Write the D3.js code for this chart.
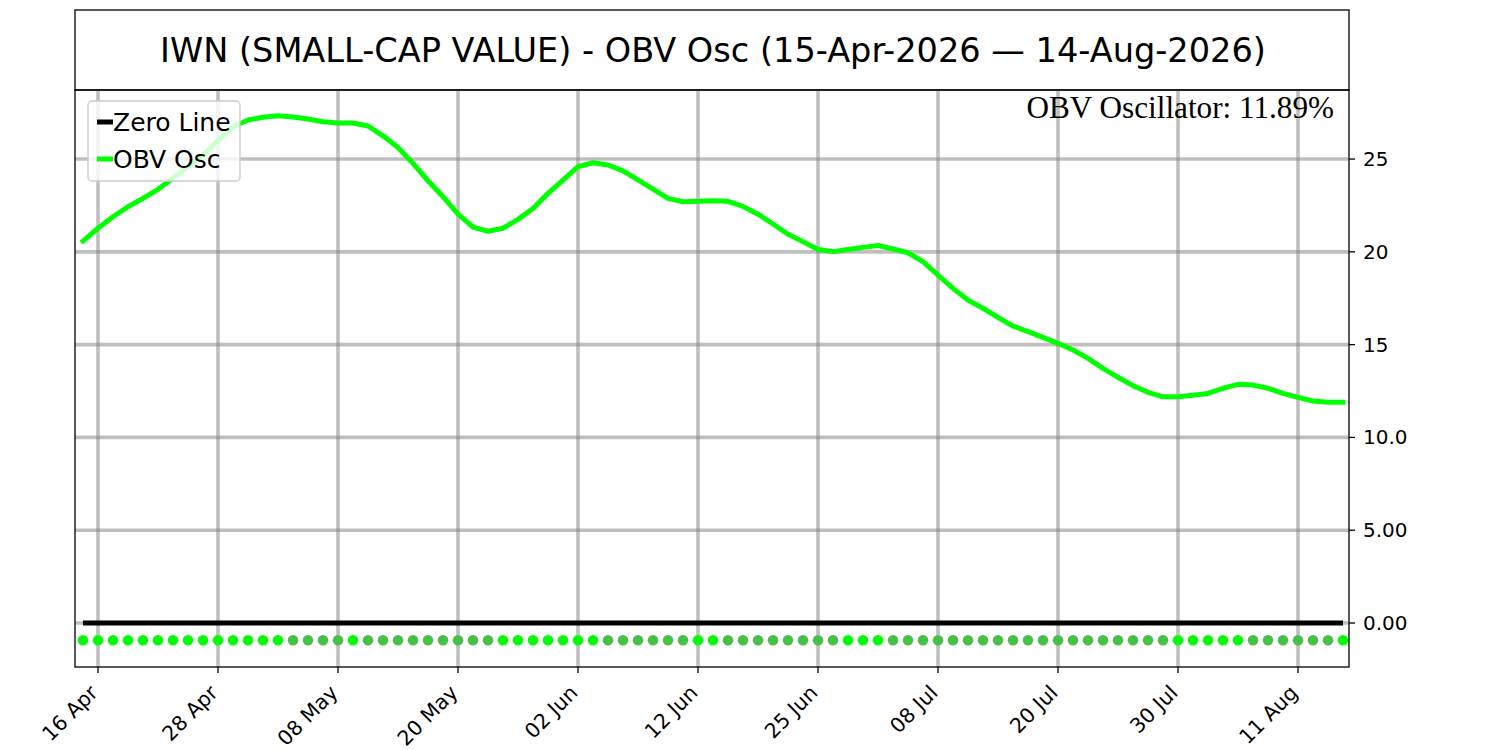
<!DOCTYPE html>
<html><head><meta charset="utf-8">
<script src="https://cdn.jsdelivr.net/npm/d3@7"></script>
<style>body{margin:0;background:#fff}svg{display:block}</style>
</head><body>
<svg id="c" width="1500" height="750"></svg>
<script>
const titleText = "IWN (SMALL-CAP VALUE) - OBV Osc (15-Apr-2026 \u2014 14-Aug-2026)";
const annotationText = "OBV Oscillator: 11.89%";
const dates = ["2026-04-15","2026-04-16","2026-04-17","2026-04-20","2026-04-21","2026-04-22","2026-04-23","2026-04-24","2026-04-27","2026-04-28",
"2026-04-29","2026-04-30","2026-05-01","2026-05-04","2026-05-05","2026-05-06","2026-05-07","2026-05-08","2026-05-11","2026-05-12",
"2026-05-13","2026-05-14","2026-05-15","2026-05-18","2026-05-19","2026-05-20","2026-05-21","2026-05-22","2026-05-26","2026-05-27",
"2026-05-28","2026-05-29","2026-06-01","2026-06-02","2026-06-03","2026-06-04","2026-06-05","2026-06-08","2026-06-09","2026-06-10",
"2026-06-11","2026-06-12","2026-06-15","2026-06-16","2026-06-17","2026-06-18","2026-06-22","2026-06-23","2026-06-24","2026-06-25",
"2026-06-26","2026-06-29","2026-06-30","2026-07-01","2026-07-02","2026-07-06","2026-07-07","2026-07-08","2026-07-09","2026-07-10",
"2026-07-13","2026-07-14","2026-07-15","2026-07-16","2026-07-17","2026-07-20","2026-07-21","2026-07-22","2026-07-23","2026-07-24",
"2026-07-27","2026-07-28","2026-07-29","2026-07-30","2026-07-31","2026-08-03","2026-08-04","2026-08-05","2026-08-06","2026-08-07",
"2026-08-10","2026-08-11","2026-08-12","2026-08-13","2026-08-14"];
const obvOsc = [20.58,21.27,21.89,22.43,22.88,23.37,23.96,24.59,25.2,26.0,
26.74,27.1,27.25,27.33,27.27,27.16,27.01,26.94,26.94,26.78,
26.25,25.62,24.77,23.83,22.97,22.03,21.33,21.11,21.27,21.75,
22.34,23.15,23.87,24.59,24.8,24.68,24.36,23.88,23.38,22.88,
22.70,22.72,22.75,22.72,22.45,22.03,21.5,20.95,20.55,20.13,
20.01,20.13,20.24,20.34,20.15,19.95,19.47,18.75,18.03,17.4,
16.96,16.47,16.0,15.7,15.39,15.07,14.71,14.26,13.72,13.24,
12.79,12.43,12.19,12.19,12.27,12.37,12.65,12.86,12.82,12.65,
12.37,12.16,11.96,11.89,11.89];
// 1 = bright marker, 0 = muted marker
const signalState = [1,1,1,1,1,1,1,1,1,1,1,1,1,1,0,0,0,0,1,0,
0,0,0,0,0,0,0,0,1,1,1,1,1,1,1,0,0,0,0,0,
0,1,1,0,0,0,0,0,0,0,0,1,1,1,0,0,0,0,0,0,
0,0,0,0,0,0,0,0,0,0,0,0,0,1,1,1,1,1,0,0,
0,0,0,0,1];
const markerLevel = -0.93;
const xTickIdx = [1,9,17,25,33,41,49,57,65,73,81];
const yTickVals = [0,5,10,15,20,25];
const yTickLabels = ["0.00","5.00","10.0","15","20","25"];
const legendLabels = ["Zero Line","OBV Osc"];

const svg = d3.select("#c");
const L = 75, R = 1349, T = 90, B = 667;
const x = d3.scaleLinear().domain([-0.533, 84.4]).range([L, R]);
const y = d3.scaleLinear().domain([-2.37, 28.72]).range([B, T]);
const parse = d3.timeParse("%Y-%m-%d"), fmt = d3.timeFormat("%d %b");

// title box
svg.append("rect").attr("x", L).attr("y", 10).attr("width", R - L).attr("height", 80)
  .attr("fill", "#fff").attr("stroke", "#000").attr("stroke-width", 1.3);
svg.append("text").attr("x", (L + R) / 2 + 1).attr("y", 50).attr("text-anchor", "middle")
  .attr("dominant-baseline", "central").attr("font-family", "DejaVu Sans").attr("font-size", 33.6)
  .text(titleText);

const g = svg.append("g");
g.append("defs").append("clipPath").attr("id", "clip").append("rect")
  .attr("x", L).attr("y", T).attr("width", R - L).attr("height", B - T);
const plot = g.append("g").attr("clip-path", "url(#clip)");

// grid
plot.selectAll(".vg").data(xTickIdx).join("line")
  .attr("x1", d => x(d)).attr("x2", d => x(d)).attr("y1", T).attr("y2", B)
  .attr("stroke", "#808080").attr("stroke-opacity", 0.5).attr("stroke-width", 3.6);
plot.selectAll(".hg").data(yTickVals).join("line")
  .attr("x1", L).attr("x2", R).attr("y1", d => y(d)).attr("y2", d => y(d))
  .attr("stroke", "#808080").attr("stroke-opacity", 0.5).attr("stroke-width", 3.6);

// zero line
plot.append("line").attr("x1", x(0)).attr("x2", x(dates.length - 1))
  .attr("y1", y(0)).attr("y2", y(0)).attr("stroke", "#000").attr("stroke-width", 5);

// OBV line
const line = d3.line().x((d, i) => x(i)).y(d => y(d));
plot.append("path").datum(obvOsc).attr("d", line).attr("fill", "none")
  .attr("stroke", "#00ff00").attr("stroke-width", 5).attr("stroke-linejoin", "round")
  .attr("stroke-linecap", "square");

// markers
plot.selectAll(".dot").data(signalState).join("circle")
  .attr("cx", (d, i) => x(i)).attr("cy", y(markerLevel)).attr("r", 5.3)
  .attr("fill", d => d ? "#00ff00" : "#48bf48");

// annotation
svg.append("text").attr("x", 1334).attr("y", 118).attr("text-anchor", "end")
  .attr("font-family", "Liberation Serif, Times New Roman, serif").attr("font-size", 31.2)
  .text(annotationText);

// legend
const lg = svg.append("g");
lg.append("rect").attr("x", 88).attr("y", 101).attr("width", 152).attr("height", 80).attr("rx", 4)
  .attr("fill", "#fff").attr("fill-opacity", 0.8).attr("stroke", "#cccccc").attr("stroke-width", 1.3);
const legColors = ["#000", "#00ff00"];
legendLabels.forEach((lab, i) => {
  const yy = 122 + i * 37;
  lg.append("line").attr("x1", 97).attr("x2", 113).attr("y1", yy).attr("y2", yy)
    .attr("stroke", legColors[i]).attr("stroke-width", 5);
  lg.append("text").attr("x", 113).attr("y", yy).attr("dominant-baseline", "central")
    .attr("font-family", "DejaVu Sans").attr("font-size", 25).text(lab);
});

// frame
svg.append("rect").attr("x", L).attr("y", T).attr("width", R - L).attr("height", B - T)
  .attr("fill", "none").attr("stroke", "#000").attr("stroke-width", 1.3);

// y axis (right)
const ya = svg.append("g");
yTickVals.forEach((v, i) => {
  ya.append("line").attr("x1", R).attr("x2", R + 6).attr("y1", y(v)).attr("y2", y(v))
    .attr("stroke", "#000").attr("stroke-width", 1.3);
  ya.append("text").attr("x", R + 14).attr("y", y(v)).attr("dominant-baseline", "central")
    .attr("font-family", "DejaVu Sans").attr("font-size", 20).text(yTickLabels[i]);
});

// x axis
const xa = svg.append("g");
xTickIdx.forEach(i => {
  const px = x(i);
  xa.append("line").attr("x1", px).attr("x2", px).attr("y1", B).attr("y2", B + 6)
    .attr("stroke", "#000").attr("stroke-width", 1.3);
  xa.append("text").attr("transform", `translate(${px + 1},${B + 27}) rotate(-45)`)
    .attr("text-anchor", "end").attr("font-family", "DejaVu Sans").attr("font-size", 20.5)
    .text(fmt(parse(dates[i])));
});
</script>
</body></html>
